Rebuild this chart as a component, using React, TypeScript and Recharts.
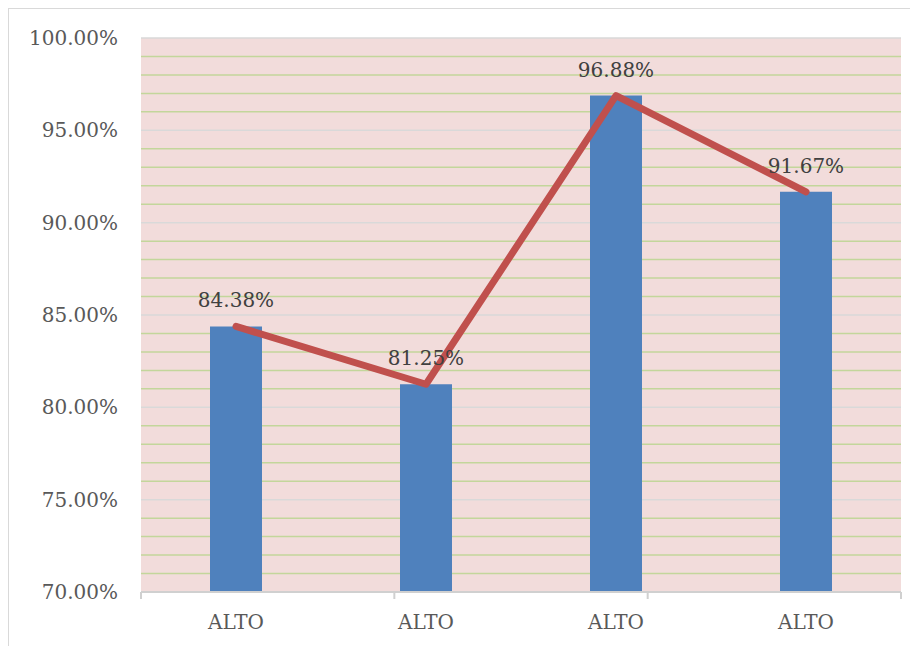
import {
  Bar,
  CartesianGrid,
  ComposedChart,
  LabelList,
  Line,
  XAxis,
  YAxis,
} from "recharts";

const categories = ["ALTO", "ALTO", "ALTO", "ALTO"];
const scores = [84.38, 81.25, 96.88, 91.67];

const yDomain: [number, number] = [70, 100];
const majorTicks = [70, 75, 80, 85, 90, 95, 100];
const minorTicks = [
  71, 72, 73, 74, 76, 77, 78, 79, 81, 82, 83, 84, 86, 87, 88, 89, 91, 92, 93,
  94, 96, 97, 98, 99,
];
const boundaryTicks = [0, 1, 2, 3, 4];

const data = categories.map((name, i) => ({ name, score: scores[i] }));

const FONT = "DejaVu Serif";

function pct(v: number): string {
  return `${v.toFixed(2)}%`;
}

// grid lines through the y range of the plot area
function gridAt(values: number[]) {
  return ({ yAxis, offset }: any) => {
    if (yAxis && typeof yAxis.scale === "function") {
      return values.map((v) => yAxis.scale(v));
    }
    const [lo, hi] = yDomain;
    return values.map(
      (v) => offset.top + ((hi - v) / (hi - lo)) * offset.height
    );
  };
}

export default function App() {
  return (
    <div
      style={{
        width: 911,
        height: 640,
        borderLeft: "1px solid #d9d9d9",
        borderTop: "1px solid #d9d9d9",
        background: "#ffffff",
        fontFamily: FONT,
      }}
    >
      <ComposedChart
        width={911}
        height={640}
        data={data}
        barCategoryGap={0}
        margin={{ top: 29, right: 19, left: 0, bottom: 0 }}
      >
        <CartesianGrid
          fill="#f2dcdb"
          vertical={false}
          horizontalCoordinatesGenerator={gridAt(minorTicks)}
          stroke="#c3d69b"
          strokeWidth={1.5}
        />
        <CartesianGrid
          vertical={false}
          horizontalCoordinatesGenerator={gridAt(majorTicks)}
          stroke="#d9d9d9"
          strokeWidth={1.5}
        />
        {/* frame axis: only the baseline and the ticks between categories */}
        <XAxis
          xAxisId="a"
          type="number"
          domain={[0, 4]}
          ticks={boundaryTicks}
          tickFormatter={() => ""}
          tick={{ fill: "none", fontSize: 1 }}
          tickSize={7}
          height={6}
          axisLine={{ stroke: "#d0d0d0", strokeWidth: 2 }}
          tickLine={{ stroke: "#d0d0d0", strokeWidth: 2 }}
        />
        <XAxis
          dataKey="name"
          xAxisId="b"
          axisLine={false}
          tickLine={false}
          tickSize={0}
          tickMargin={17}
          height={51}
          tick={{ fill: "#595959", fontSize: 20, fontFamily: FONT }}
        />
        <YAxis
          domain={yDomain}
          ticks={majorTicks}
          tickFormatter={pct}
          axisLine={false}
          tickLine={false}
          tickSize={0}
          tickMargin={23}
          width={132}
          tick={{ fill: "#595959", fontSize: 20, fontFamily: FONT }}
        />
        <Bar
          xAxisId="b"
          dataKey="score"
          fill="#4f81bd"
          barSize={52}
          isAnimationActive={false}
        />
        <Line
          xAxisId="b"
          type="linear"
          dataKey="score"
          stroke="#c0504d"
          strokeWidth={7}
          strokeLinecap="round"
          strokeLinejoin="round"
          dot={false}
          activeDot={false}
          isAnimationActive={false}
        >
          <LabelList
            dataKey="score"
            position="top"
            offset={19}
            formatter={(v: number) => pct(v)}
            fill="#404040"
            fontSize={20}
            fontFamily={FONT}
          />
        </Line>
      </ComposedChart>
    </div>
  );
}
